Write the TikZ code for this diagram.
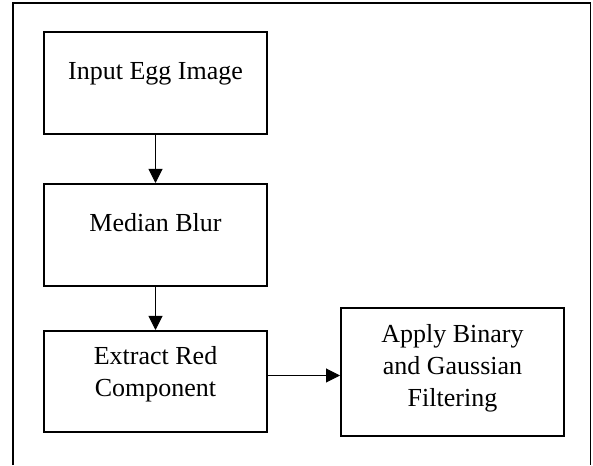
\documentclass[tikz,border=0pt]{standalone}
\usepackage{fontspec}
\setmainfont{Liberation Serif}
\usetikzlibrary{positioning,arrows.meta}

\begin{document}
\begin{tikzpicture}[x=1pt, y=1pt,
  node distance=48pt, >={Triangle[length=14pt,width=14pt]},
  box/.style={draw, line width=2pt, minimum width=223pt, inner sep=0pt, align=center, font=\fontsize{26}{32}\selectfont},
  onebox/.style={box, minimum height=102pt, text height=18pt, text depth=24pt},
  flow/.style={->, line width=1pt},
]
  \useasboundingbox (0,0) rectangle (593,465);
  % open frame round the chart
  \draw[line width=1.5pt] (13,0) -- (13,462) -- (590.5,462) -- (590.5,0);
  \node[onebox] (input) at (155.5,382) {Input Egg Image};
  \node[onebox, below=48pt of input] (blur) {Median Blur};
  \node[box, minimum height=101pt, text height=50pt, text depth=19pt, below=43pt of blur] (red) {Extract Red\\Component};
  \node[box, minimum height=128pt, text height=83pt, text depth=14pt, right=72pt of red, yshift=9.5pt] (filter) {Apply Binary\\and Gaussian\\Filtering};
  \draw[flow] (input) -- (blur);
  \draw[flow] (blur) -- (red);
  \draw[flow] ([yshift=6pt]red.east) -- ([yshift=6pt]red.east -| filter.west);
\end{tikzpicture}
\end{document}
